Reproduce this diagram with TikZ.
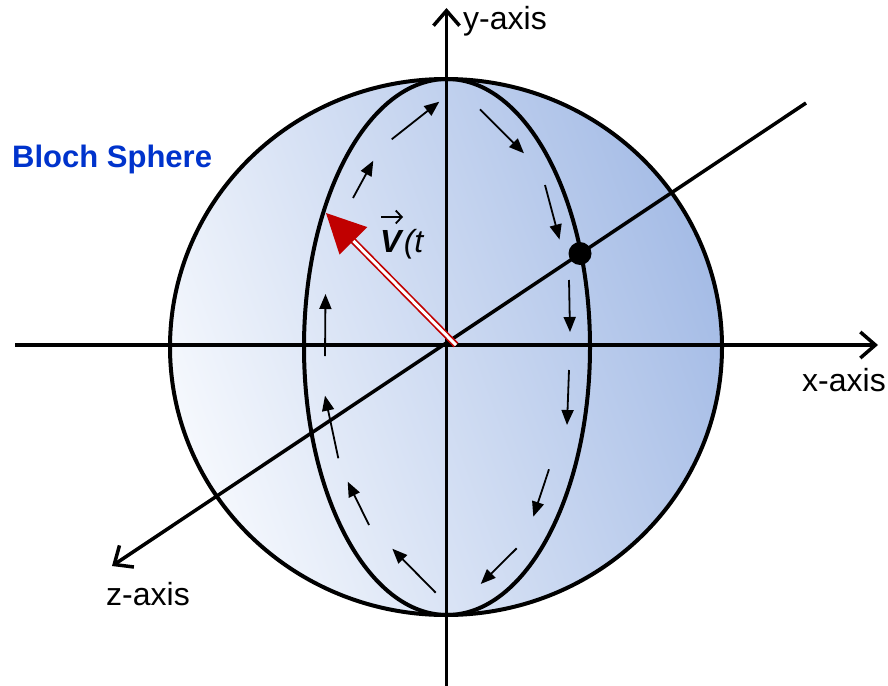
\documentclass[tikz,border=0pt]{standalone}
\usepackage{fontspec}
\setmainfont{Liberation Sans}
\usetikzlibrary{arrows.meta}
\definecolor{blochblue}{RGB}{0,51,204}
\definecolor{vecred}{RGB}{192,0,0}
\definecolor{shadeL}{RGB}{245,248,253}
\definecolor{shadeR}{RGB}{165,188,230}
\begin{document}
\begin{tikzpicture}[x=1pt,y=-1pt,
  outline/.style={line width=4pt},
  axisline/.style={line width=3.5pt,-{Straight Barb[length=15pt,width=26pt,line width=3.5pt]}},
  flow/.style={line width=1.8pt,-{Triangle[length=15pt,width=12pt]}},
  lbl/.style={inner sep=0pt,anchor=base west,font=\fontsize{32}{38}\selectfont}]
\useasboundingbox (0,0) rectangle (888,685);
% sphere
\shade[left color=shadeL,right color=shadeR,shading angle=110] (446,347) ellipse [x radius=276,y radius=268];
\draw[outline] (446,347) ellipse [x radius=276,y radius=268];
\draw[outline] (447,347) ellipse [x radius=143,y radius=268];
% axes
\coordinate (xs) at (15,345);
\coordinate (xe) at (878,345);
\coordinate (ys) at (446.5,690);
\coordinate (ye) at (446.5,8);
\coordinate (zs) at (806,103);
\coordinate (ze) at (112,566);
\draw[axisline] (xs) -- (xe);
\draw[axisline] (ys) -- (ye);
\draw[axisline] (zs) -- (ze);
% flow arrows along the ellipse
\draw[flow] (391.7,139.3) -- (439.3,101.7);
\draw[flow] (480,109.3) -- (524,153.3);
\draw[flow] (545,185) -- (559.5,239.5);
\draw[flow] (569,280) -- (570,332);
\draw[flow] (569,370) -- (567,425);
\draw[flow] (549,469.3) -- (533.3,516.7);
\draw[flow] (516.7,548.3) -- (480.7,584);
\draw[flow] (435.7,592.7) -- (392.3,548.7);
\draw[flow] (369,525) -- (347.7,481.7);
\draw[flow] (338.3,458.3) -- (325,395.7);
\draw[flow] (325,356) -- (325.5,294);
\draw[flow] (353,198) -- (373.3,160.7);
% state vector
\coordinate (vtail) at (456,345);
\coordinate (vbase) at (352.5,240);
\draw[vecred,line width=1.7pt,double=white,double distance=3pt] (vtail) -- (vbase);
\fill[vecred] (326,213) -- (339.5,254.5) -- (367.3,227.1) -- cycle;
% point on sphere
\fill (580,253.5) circle [radius=11.5];
% labels
\node[lbl] (ylab) at (463,30) {y-axis};
\node[lbl] (xlab) at (802,391) {x-axis};
\node[lbl] (zlab) at (106,605) {z-axis};
\node[lbl,text=blochblue,font=\fontsize{31}{37}\selectfont\bfseries] (title) at (12,167) {Bloch Sphere};
\node[lbl] (vlab) at (380,252) {\textbf{\textit{V}}\textit{(t}};
\draw[line width=1.8pt,-{Straight Barb[length=6pt,width=13pt,line width=1.8pt]}] (381,217) -- (403,217);
\end{tikzpicture}
\end{document}
